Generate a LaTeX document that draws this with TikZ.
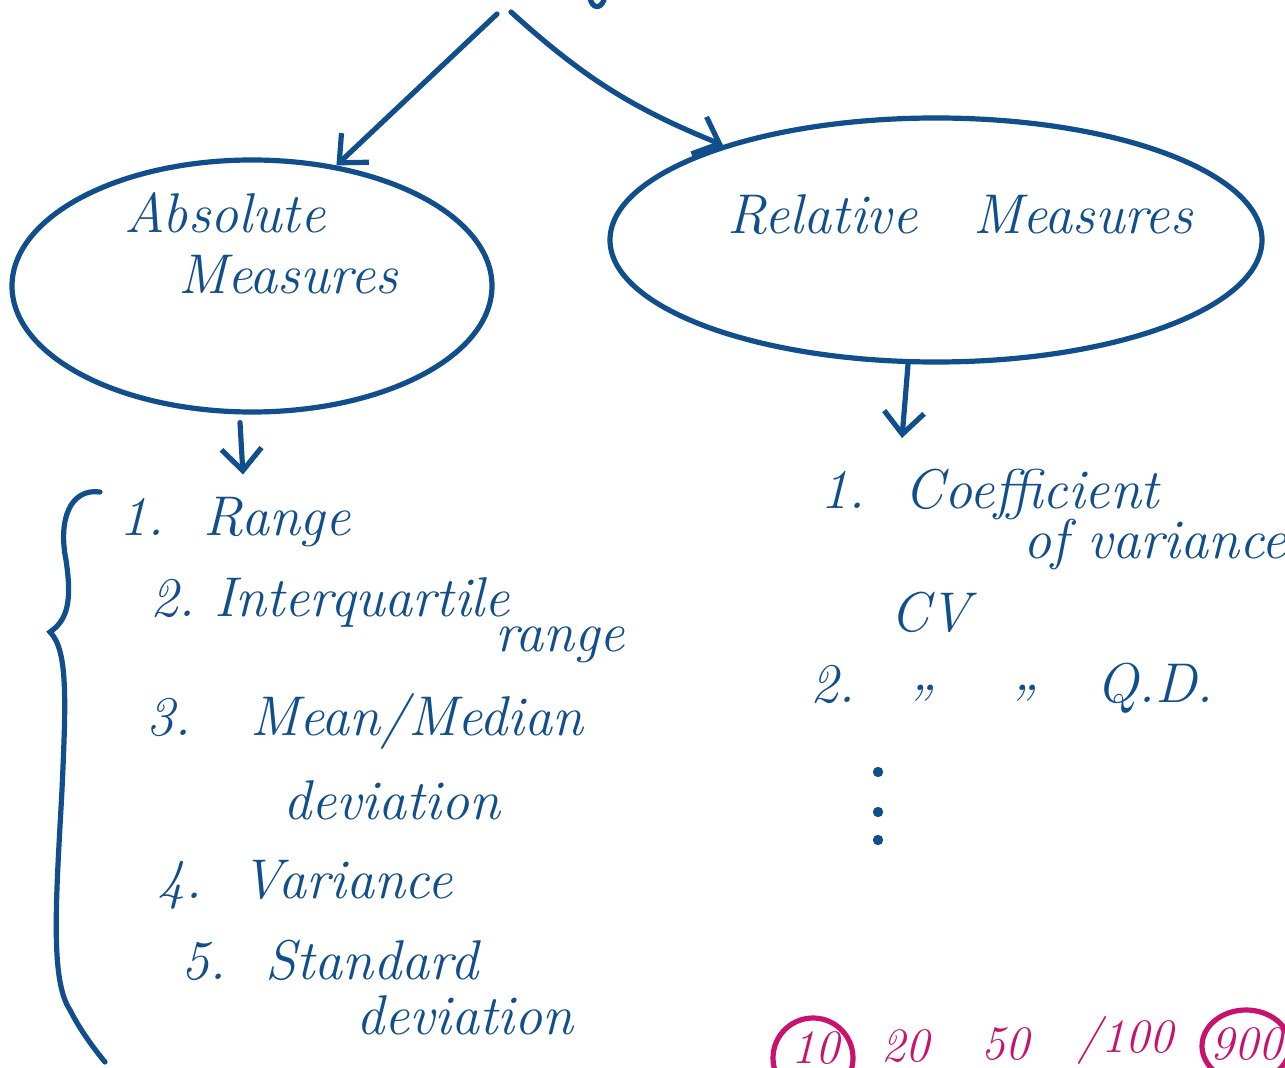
\documentclass[tikz,border=0pt]{standalone}
\usepackage{tikz}
\usetikzlibrary{shapes.geometric,arrows.meta}
\definecolor{ink}{RGB}{16,78,140}
\definecolor{pinkink}{RGB}{200,18,110}
\begin{document}
\begin{tikzpicture}[x=0.5pt, y=-0.5pt, line width=2.6pt, ink, line cap=round,
  txt/.style={font=\fontsize{28}{32}\selectfont\itshape, text=ink, inner sep=0pt},
  ptxt/.style={font=\fontsize{24}{28}\selectfont\itshape, text=pinkink, inner sep=0pt},
  arr/.style={-{Straight Barb[length=11pt,width=20pt,line width=2.6pt]}}]
\useasboundingbox (0,0) rectangle (1285,1068);
\clip (0,0) rectangle (1285,1068);
\fill[white] (0,0) rectangle (1285,1068);
% the two kinds of measures
\coordinate (apexl) at (497,14);
\coordinate (apexr) at (511,12);
\node[ellipse, draw, minimum width=240pt, minimum height=126pt] (abs) at (252,286){};
\node[ellipse, draw, minimum width=326pt, minimum height=122pt] (rel) at (936,240){};
\node[txt] (abs1) at (225,213){Absolute};
\node[txt] (abs2) at (288,275){Measures};
\node[txt] (rel1) at (960,215){Relative\quad Measures};
\draw (590,-2) .. controls (592,8) and (600,10) .. (604,0);
\draw[arr] (apexl) -- (abs.55);
\draw[arr] (apexr) to[bend right=10] (rel.156);
% absolute list
\node[txt] (r1) at (235,522){1.\ \ Range};
\node[txt] (r2) at (330,603){2.\ Interquartile};
\node[txt] (r2b) at (560,645){range};
\node[txt] (r3) at (365,722){3.\ \ \ Mean/Median};
\node[txt] (r3b) at (392,800){deviation};
\node[txt] (r4) at (305,885){4.\ \ Variance};
\node[txt] (r5) at (330,960){5.\ \ Standard};
\node[txt] (r5b) at (465,1015){deviation};
\draw[arr] ([xshift=-6pt]abs.south) ++(0,8) -- ([xshift=4pt, yshift=10pt]r1.north);
\draw (100,492) .. controls (70,488) and (58,520) .. (66,560)
  .. controls (72,600) and (68,620) .. (50,632)
  .. controls (68,650) and (66,700) .. (62,790)
  .. controls (56,900) and (50,980) .. (70,1010)
  .. controls (80,1030) and (95,1050) .. (105,1062);
% relative list
\node[txt] (c1) at (990,495){1.\ \ Coefficient};
\node[txt] (c1b) at (1155,545){of variance};
\node[txt] (cv) at (930,612){CV};
\node[txt] (c2) at (1012,688){2.\quad\raisebox{0.5ex}{,,}\quad\ \raisebox{0.5ex}{,,}\quad Q.D.};
\foreach \y in {772,812,840}
  \fill (878,\y) circle (2.6pt);
\coordinate (rtip) at (902,438);
\draw[arr] ([xshift=-14pt]rel.south) -- (rtip);
% pink notes at the bottom
\node[pinkink, draw, circle, minimum size=40pt] (p10) at (813,1058){};
\node[ptxt] (t10) at (815,1048){10};
\node[ptxt] (t20) at (905,1046){20};
\node[ptxt] (t50) at (1005,1044){50};
\node[ptxt] (t100) at (1125,1040){/100};
\node[pinkink, draw, ellipse, minimum width=44pt, minimum height=36pt] (p900) at (1246,1046){};
\node[ptxt] (t900) at (1246,1044){900};
\end{tikzpicture}
\end{document}
